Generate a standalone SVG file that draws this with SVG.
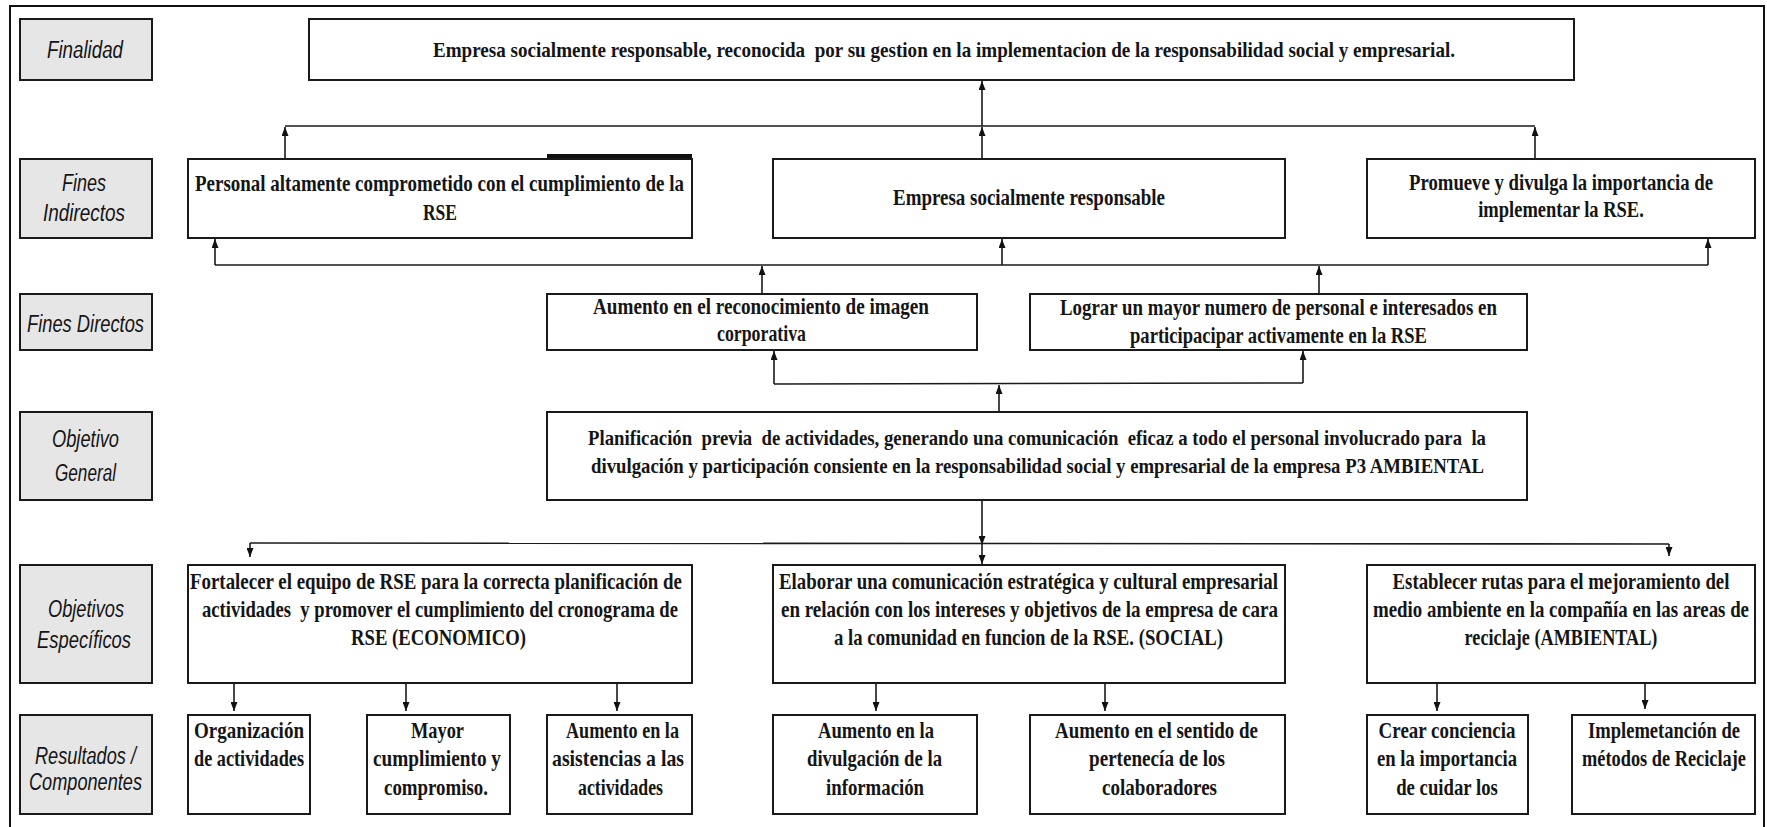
<svg xmlns="http://www.w3.org/2000/svg" width="1767" height="827" viewBox="0 0 1767 827">
<defs>
<style>
.frame{fill:none;stroke:#111;stroke-width:2}
.box{fill:#fff;stroke:#1a1a1a;stroke-width:2}
.lbl{fill:#e6e6e6;stroke:#1a1a1a;stroke-width:2}
.t{font-family:"Liberation Serif","Times New Roman",serif;font-weight:bold;font-size:23px;fill:#151515}
.t21{font-size:22px}
.m{text-anchor:middle}
.l{font-family:"Liberation Sans",Arial,sans-serif;font-style:italic;font-size:23px;fill:#151515}
.c{stroke:#1a1a1a;stroke-width:1.6;fill:none}
.a{marker-end:url(#arr)}
</style>
<marker id="arr" viewBox="0 0 9 7" refX="9" refY="3.5" markerWidth="9" markerHeight="7" markerUnits="userSpaceOnUse" orient="auto">
<path d="M0,0 L9,3.5 L0,7 z" fill="#111"/>
</marker>
</defs>
<rect width="1767" height="827" fill="#fff"/>
<path class="frame" d="M10,827 V6 H1764 V827"/>

<g id="labels">
<g id="lbl-finalidad"><rect class="lbl" x="20" y="19" width="132" height="61"/><text class="l" x="47" y="58" textLength="76" lengthAdjust="spacingAndGlyphs">Finalidad</text></g>
<g id="lbl-fines-indirectos"><rect class="lbl" x="20" y="159" width="132" height="79"/><text class="l" x="62" y="191" textLength="44" lengthAdjust="spacingAndGlyphs">Fines</text><text class="l" x="43" y="221" textLength="82" lengthAdjust="spacingAndGlyphs">Indirectos</text></g>
<g id="lbl-fines-directos"><rect class="lbl" x="20" y="294" width="132" height="56"/><text class="l" x="27" y="332" textLength="117" lengthAdjust="spacingAndGlyphs">Fines Directos</text></g>
<g id="lbl-objetivo-general"><rect class="lbl" x="20" y="412" width="132" height="88"/><text class="l" x="52" y="447" textLength="67" lengthAdjust="spacingAndGlyphs">Objetivo</text><text class="l" x="55" y="481" textLength="61" lengthAdjust="spacingAndGlyphs">General</text></g>
<g id="lbl-objetivos-especificos"><rect class="lbl" x="20" y="565" width="132" height="118"/><text class="l" x="48" y="617" textLength="76" lengthAdjust="spacingAndGlyphs">Objetivos</text><text class="l" x="37" y="648" textLength="94" lengthAdjust="spacingAndGlyphs">Específicos</text></g>
<g id="lbl-resultados"><rect class="lbl" x="20" y="715" width="132" height="99"/><text class="l" x="35" y="764" textLength="101" lengthAdjust="spacingAndGlyphs">Resultados /</text><text class="l" x="29" y="790" textLength="113" lengthAdjust="spacingAndGlyphs">Componentes</text></g>
</g>

<g id="connectors">
<line class="c" x1="285" y1="126" x2="1535" y2="126"/>
<line class="c a" x1="285" y1="159" x2="285" y2="127"/>
<line class="c a" x1="982" y1="159" x2="982" y2="127"/>
<line class="c a" x1="982" y1="126" x2="982" y2="81"/>
<line class="c a" x1="1535" y1="159" x2="1535" y2="127"/>
<line class="c" x1="215" y1="265" x2="1708" y2="265"/>
<line class="c a" x1="215" y1="265" x2="215" y2="239"/>
<line class="c a" x1="1002" y1="265" x2="1002" y2="239"/>
<line class="c a" x1="1708" y1="265" x2="1708" y2="239"/>
<line class="c a" x1="762" y1="294" x2="762" y2="266"/>
<line class="c a" x1="1319" y1="294" x2="1319" y2="266"/>
<line class="c" x1="774" y1="384" x2="1303" y2="383"/>
<line class="c a" x1="774" y1="384" x2="774" y2="351"/>
<line class="c a" x1="1303" y1="383" x2="1303" y2="351"/>
<line class="c a" x1="999" y1="412" x2="999" y2="385"/>
<line class="c a" x1="982" y1="500" x2="982" y2="545"/>
<line class="c" x1="250" y1="543" x2="1669" y2="544"/>
<line class="c a" x1="250" y1="543" x2="250" y2="557"/>
<line class="c a" x1="982" y1="545" x2="982" y2="564"/>
<line class="c a" x1="1669" y1="544" x2="1669" y2="556"/>
<line class="c a" x1="234" y1="683" x2="234" y2="711"/>
<line class="c a" x1="406" y1="660" x2="406" y2="711"/>
<line class="c a" x1="617" y1="683" x2="617" y2="711"/>
<line class="c a" x1="876" y1="683" x2="876" y2="711"/>
<line class="c a" x1="1105" y1="683" x2="1105" y2="711"/>
<line class="c a" x1="1437" y1="683" x2="1437" y2="711"/>
<line class="c a" x1="1645" y1="683" x2="1645" y2="709"/>
</g>

<g id="n-finalidad"><rect class="box" x="309" y="19" width="1265" height="61"/><text class="t t21" xml:space="preserve" x="433" y="57" textLength="1022" lengthAdjust="spacingAndGlyphs">Empresa socialmente responsable, reconocida  por su gestion en la implementacion de la responsabilidad social y empresarial.</text></g>

<g id="n-personal"><rect class="box" x="188" y="159" width="504" height="79"/><rect x="547" y="154" width="145" height="4" fill="#111"/><text class="t" x="195" y="191" textLength="489" lengthAdjust="spacingAndGlyphs">Personal altamente comprometido con el cumplimiento de la</text><text class="t" x="423" y="220" textLength="34" lengthAdjust="spacingAndGlyphs">RSE</text></g>
<g id="n-empresa"><rect class="box" x="773" y="159" width="512" height="79"/><text class="t" x="893" y="205" textLength="272" lengthAdjust="spacingAndGlyphs">Empresa socialmente responsable</text></g>
<g id="n-promueve"><rect class="box" x="1367" y="159" width="388" height="79"/><g transform="translate(1561,0) scale(0.8,1)"><text class="t m" x="0" y="190" textLength="380" lengthAdjust="spacingAndGlyphs">Promueve y divulga la importancia de</text><text class="t m" x="0" y="217" textLength="207" lengthAdjust="spacingAndGlyphs">implementar la RSE.</text></g></g>

<g id="n-aumento-imagen"><rect class="box" x="547" y="294" width="430" height="56"/><text class="t" x="593" y="314" textLength="336" lengthAdjust="spacingAndGlyphs">Aumento en el reconocimiento de imagen</text><text class="t" x="717" y="341" textLength="89" lengthAdjust="spacingAndGlyphs">corporativa</text></g>
<g id="n-lograr"><rect class="box" x="1030" y="294" width="497" height="56"/><text class="t" x="1060" y="315" textLength="437" lengthAdjust="spacingAndGlyphs">Lograr un mayor numero de personal e interesados en</text><text class="t" x="1130" y="343" textLength="297" lengthAdjust="spacingAndGlyphs">participacipar activamente en la RSE</text></g>

<g id="n-planificacion"><rect class="box" x="547" y="412" width="980" height="88"/><text class="t t21" xml:space="preserve" x="588" y="445" textLength="898" lengthAdjust="spacingAndGlyphs">Planificación  previa  de actividades, generando una comunicación  eficaz a todo el personal involucrado para  la</text><text class="t t21" x="591" y="473" textLength="893" lengthAdjust="spacingAndGlyphs">divulgación y participación consiente en la responsabilidad social y empresarial de la empresa P3 AMBIENTAL</text></g>

<g id="n-fortalecer"><rect class="box" x="188" y="565" width="504" height="118"/><text class="t" x="190" y="589" textLength="492" lengthAdjust="spacingAndGlyphs">Fortalecer el equipo de RSE para la correcta planificación de</text><text class="t" xml:space="preserve" x="202" y="617" textLength="476" lengthAdjust="spacingAndGlyphs">actividades  y promover el cumplimiento del cronograma de</text><text class="t" x="351" y="645" textLength="175" lengthAdjust="spacingAndGlyphs">RSE (ECONOMICO)</text></g>
<g id="n-elaborar"><rect class="box" x="773" y="565" width="512" height="118"/><text class="t" x="779" y="589" textLength="499" lengthAdjust="spacingAndGlyphs">Elaborar una comunicación estratégica y cultural empresarial</text><text class="t" x="781" y="617" textLength="497" lengthAdjust="spacingAndGlyphs">en relación con los intereses y objetivos de la empresa de cara</text><text class="t" x="834" y="645" textLength="389" lengthAdjust="spacingAndGlyphs">a la comunidad en funcion de la RSE. (SOCIAL)</text></g>
<g id="n-establecer"><rect class="box" x="1367" y="565" width="388" height="118"/><g transform="translate(1561,0) scale(0.8,1)"><text class="t m" x="0" y="589" textLength="421" lengthAdjust="spacingAndGlyphs">Establecer rutas para el mejoramiento del</text><text class="t m" x="0" y="617" textLength="470" lengthAdjust="spacingAndGlyphs">medio ambiente en la compañía en las areas de</text><text class="t m" x="0" y="645" textLength="241" lengthAdjust="spacingAndGlyphs">reciclaje (AMBIENTAL)</text></g></g>

<g id="n-organizacion"><rect class="box" x="188" y="715" width="122" height="99"/><text class="t" x="194" y="738" textLength="110" lengthAdjust="spacingAndGlyphs">Organización</text><text class="t" x="194" y="766" textLength="110" lengthAdjust="spacingAndGlyphs">de actividades</text></g>
<g id="n-mayor"><rect class="box" x="367" y="715" width="143" height="99"/><text class="t" x="411" y="738" textLength="53" lengthAdjust="spacingAndGlyphs">Mayor</text><text class="t" x="373" y="766" textLength="128" lengthAdjust="spacingAndGlyphs">cumplimiento y</text><text class="t" x="384" y="795" textLength="104" lengthAdjust="spacingAndGlyphs">compromiso.</text></g>
<g id="n-asistencias"><rect class="box" x="547" y="715" width="145" height="99"/><text class="t" x="566" y="738" textLength="113" lengthAdjust="spacingAndGlyphs">Aumento en la</text><text class="t" x="552" y="766" textLength="132" lengthAdjust="spacingAndGlyphs">asistencias a las</text><text class="t" x="578" y="795" textLength="85" lengthAdjust="spacingAndGlyphs">actividades</text></g>
<g id="n-divulgacion"><rect class="box" x="773" y="715" width="204" height="99"/><text class="t" x="818" y="738" textLength="116" lengthAdjust="spacingAndGlyphs">Aumento en la</text><text class="t" x="807" y="766" textLength="135" lengthAdjust="spacingAndGlyphs">divulgación de la</text><text class="t" x="826" y="795" textLength="98" lengthAdjust="spacingAndGlyphs">información</text></g>
<g id="n-sentido"><rect class="box" x="1030" y="715" width="255" height="99"/><text class="t" x="1055" y="738" textLength="203" lengthAdjust="spacingAndGlyphs">Aumento en el sentido de</text><text class="t" x="1089" y="766" textLength="136" lengthAdjust="spacingAndGlyphs">pertenecía de los</text><text class="t" x="1102" y="795" textLength="115" lengthAdjust="spacingAndGlyphs">colaboradores</text></g>
<g id="n-crear"><rect class="box" x="1367" y="715" width="161" height="99"/><g transform="translate(1447,0) scale(0.8,1)"><text class="t m" x="0" y="738" textLength="171" lengthAdjust="spacingAndGlyphs">Crear conciencia</text><text class="t m" x="0" y="766" textLength="175" lengthAdjust="spacingAndGlyphs">en la importancia</text><text class="t m" x="0" y="795" textLength="127" lengthAdjust="spacingAndGlyphs">de cuidar los</text></g></g>
<g id="n-implementacion"><rect class="box" x="1572" y="715" width="183" height="99"/><g transform="translate(1664,0) scale(0.8,1)"><text class="t m" x="0" y="738" textLength="190" lengthAdjust="spacingAndGlyphs">Implemetanción de</text><text class="t m" x="0" y="766" textLength="205" lengthAdjust="spacingAndGlyphs">métodos de Reciclaje</text></g></g>
</svg>
